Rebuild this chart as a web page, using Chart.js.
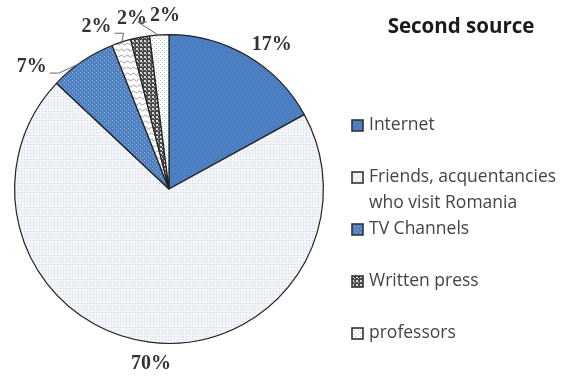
<!DOCTYPE html>
<html lang="en">
  <head>
    <meta http-equiv="content-type" content="text/html; charset=UTF-8">
    <title>Second source</title>
    <style>
      html, body { margin: 0; padding: 0; background: #fff; }
      #wrap { width: 572px; height: 376px; position: relative; }
    </style>
  </head>
  <body>
    <div id="wrap"><canvas id="chart" width="572" height="376"></canvas></div>
  </body>
  <script src="https://cdn.jsdelivr.net/npm/chart.js"></script>
  <script>
    /* Data */
    const categories = ['Internet', 'Friends, acquentancies who visit Romania', 'TV Channels', 'Other', 'Written press', 'professors'];
    const shares = [17, 70, 7, 2, 2, 2];
    const inLegend = [true, true, true, false, true, true];
    const chartTitle = 'Second source';

    /* Label nudges (px) for the percentage labels */
    const labelNudge = [[13, 8], [4, 0], [-38, 24], [-18, 6], [-4, 3], [7, 3]];
    const hasLeader = [false, false, true, true, false, true];

    /* Small pattern tiles, like the office-style hatch fills */
    function makePattern(size, bg, draw) {
      const c = document.createElement('canvas');
      c.width = size; c.height = size;
      const g = c.getContext('2d');
      g.fillStyle = bg;
      g.fillRect(0, 0, size, size);
      draw(g);
      return g.createPattern(c, 'repeat');
    }

    const fills = [
      makePattern(4, '#4a7dbf', g => { g.fillStyle = '#5d8cc8'; g.fillRect(0, 0, 1, 1); g.fillRect(2, 2, 1, 1); }),
      makePattern(3, '#f1f4f9', g => { g.fillStyle = '#d3dae4'; g.fillRect(0, 0, 1, 1); }),
      makePattern(4, '#4f80bf', g => { g.fillStyle = '#8fb0dc'; g.fillRect(0, 0, 1, 1); g.fillRect(2, 2, 1, 1); }),
      makePattern(6, '#ffffff', g => { g.strokeStyle = '#9aa4b2'; g.lineWidth = 1; g.beginPath(); g.moveTo(0, 2); g.lineTo(1.5, 1); g.lineTo(3, 2); g.lineTo(4.5, 3); g.lineTo(6, 2); g.stroke(); }),
      makePattern(4, '#4a4a4a', g => { g.fillStyle = '#d8d8d8'; g.fillRect(0, 0, 2, 2); g.fillRect(2, 2, 1, 1); }),
      makePattern(4, '#ffffff', g => { g.fillStyle = '#a9bcd6'; g.fillRect(0, 0, 1, 1); g.fillRect(2, 2, 1, 1); })
    ];

    /* Percentage labels outside the pie */
    const pctLabels = {
      id: 'pctLabels',
      afterDatasetsDraw(chart) {
        const ctx = chart.ctx;
        const meta = chart.getDatasetMeta(0);
        ctx.save();
        ctx.font = 'bold 20px "Liberation Serif", "DejaVu Serif", serif';
        ctx.fillStyle = '#333';
        ctx.textAlign = 'center';
        ctx.textBaseline = 'middle';
        meta.data.forEach((arc, i) => {
          const p = arc.getProps(['x', 'y', 'startAngle', 'endAngle', 'outerRadius'], true);
          const mid = (p.startAngle + p.endAngle) / 2;
          const r = p.outerRadius + 22;
          const lx = p.x + Math.cos(mid) * r + labelNudge[i][0];
          const ly = p.y + Math.sin(mid) * r + labelNudge[i][1];
          const txt = shares[i] + '%';
          ctx.fillText(txt, lx, ly);
          if (hasLeader[i]) {
            const ex = p.x + Math.cos(mid) * (p.outerRadius - 1);
            const ey = p.y + Math.sin(mid) * (p.outerRadius - 1);
            const w = ctx.measureText(txt).width;
            const side = ex > lx ? 1 : -1;
            const sx = lx + side * (w / 2 + 3);
            ctx.strokeStyle = '#666';
            ctx.lineWidth = 1;
            ctx.beginPath();
            ctx.moveTo(sx, ly + 6);
            ctx.lineTo(sx + side * 9, ly + 6);
            ctx.lineTo(ex, ey);
            ctx.stroke();
          }
        });
        ctx.restore();
      }
    };

    /* Legend on the right with its title */
    const sideLegend = {
      id: 'sideLegend',
      afterDraw(chart) {
        const ctx = chart.ctx;
        ctx.save();
        ctx.fillStyle = '#1a1a1a';
        ctx.font = 'bold 20.5px "Open Sans", "DejaVu Sans", sans-serif';
        ctx.textAlign = 'center';
        ctx.textBaseline = 'middle';
        ctx.fillText(chartTitle, 461, 27);

        ctx.font = '17.5px "Open Sans", "DejaVu Sans", sans-serif';
        ctx.textAlign = 'left';
        let y = 125;
        categories.forEach((name, i) => {
          if (!inLegend[i]) return;
          // wrap into lines that fit
          const words = name.split(' ');
          const lines = [];
          let cur = '';
          words.forEach(wd => {
            const t = cur ? cur + ' ' + wd : wd;
            if (ctx.measureText(t).width > 200 && cur) { lines.push(cur); cur = wd; } else { cur = t; }
          });
          lines.push(cur);
          ctx.fillStyle = fills[i];
          ctx.fillRect(352, y - 5, 11, 11);
          ctx.strokeStyle = '#333';
          ctx.lineWidth = 1.6;
          ctx.strokeRect(352, y - 5, 11, 11);
          ctx.fillStyle = '#444';
          lines.forEach((ln, k) => ctx.fillText(ln, 369, y + k * 26));
          y += 52;
        });
        ctx.restore();
      }
    };

    const ctx = document.getElementById('chart');
    const chart = new Chart(ctx, {
      type: 'pie',
      data: {
        labels: categories,
        datasets: [{
          data: shares,
          backgroundColor: fills,
          borderColor: '#222',
          borderWidth: 1.2
        }]
      },
      options: {
        responsive: false,
        animation: false,
        layout: { padding: { left: 14, right: 248, top: 34, bottom: 32 } },
        plugins: {
          legend: { display: false },
          tooltip: { enabled: false }
        }
      },
      plugins: [pctLabels, sideLegend]
    });
  </script>
</html>
